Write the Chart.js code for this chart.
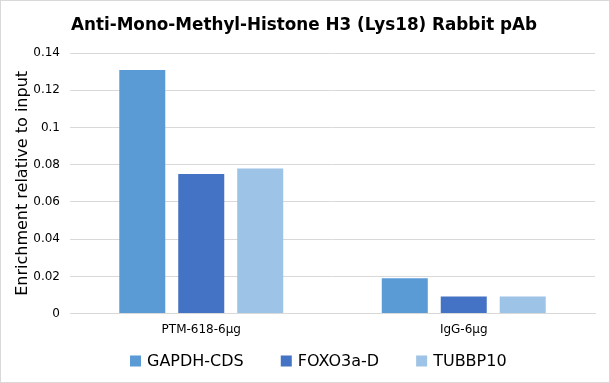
<!DOCTYPE html>
<html><head><meta charset="utf-8">
<script src="https://cdn.jsdelivr.net/npm/chart.js@4/dist/chart.umd.min.js"></script>
<style>
html,body{margin:0;padding:0;background:#fff;}
#wrap{position:relative;width:608px;height:381px;border:1px solid #d9d9d9;}
</style></head>
<body><div id="wrap"><canvas id="c" width="608" height="381"></canvas></div>
<script>
const categories = ["PTM-618-6μg", "IgG-6μg"];
const seriesNames = ["GAPDH-CDS", "FOXO3a-D", "TUBBP10"];
const gapdh = [0.131, 0.019];
const foxo3a = [0.075, 0.0092];
const tubbp10 = [0.078, 0.0092];
const colors = ["#5B9BD5", "#4472C4", "#9DC3E6"];
const font = "'DejaVu Sans', Verdana, sans-serif";

// Legend drawn on the canvas with Excel-like spacing (box, gap, label, wide gap)
const bottomLegend = {
  id: 'bottomLegend',
  afterDraw(chart) {
    const ctx = chart.ctx;
    const fs = 16;
    ctx.save();
    ctx.font = fs + "px " + font;
    ctx.textBaseline = 'middle';
    const items = chart.data.datasets.map(ds => ({ text: ds.label, color: ds.backgroundColor, w: ctx.measureText(ds.label).width }));
    const gapBox = 6, gapItem = 37, box = 11;
    let x = 129;
    const y = 360;
    items.forEach(it => {
      ctx.fillStyle = it.color;
      ctx.fillRect(x, y - box / 2, box, box);
      ctx.fillStyle = '#000';
      ctx.fillText(it.text, x + box + gapBox, y + 0.5);
      x += box + gapBox + it.w + gapItem;
    });
    ctx.restore();
  }
};

new Chart(document.getElementById('c'), {
  type: 'bar',
  data: {
    labels: categories,
    datasets: [gapdh, foxo3a, tubbp10].map((d, i) => ({
      label: seriesNames[i], data: d, backgroundColor: colors[i],
      categoryPercentage: 0.674, barPercentage: 0.78
    }))
  },
  plugins: [bottomLegend],
  options: {
    responsive: false, animation: false,
    layout: { padding: { left: 12, right: 14, top: 0, bottom: 44 } },
    plugins: {
      title: { display: true, text: 'Anti-Mono-Methyl-Histone H3 (Lys18) Rabbit pAb',
        color: '#000', font: { family: font, size: 16.8, weight: 'bold' }, padding: { top: 15, bottom: 17 } },
      legend: { display: false },
      tooltip: { enabled: false }
    },
    scales: {
      x: { grid: { display: false }, border: { color: '#d9d9d9' },
        ticks: { color: '#000', font: { family: font, size: 12 }, padding: 1 } },
      y: { min: 0, max: 0.14, ticks: { stepSize: 0.02, color: '#000', font: { family: font, size: 12 }, padding: 10,
          callback: v => String(Math.round(v * 100) / 100) },
        afterFit: s => { s.width = 57; },
        grid: { color: '#d9d9d9', drawTicks: false }, border: { display: false },
        title: { display: true, text: 'Enrichment relative to input', color: '#000',
          font: { family: font, size: 16 }, padding: { top: 0, bottom: 0 } } }
    }
  }
});
</script></body></html>
